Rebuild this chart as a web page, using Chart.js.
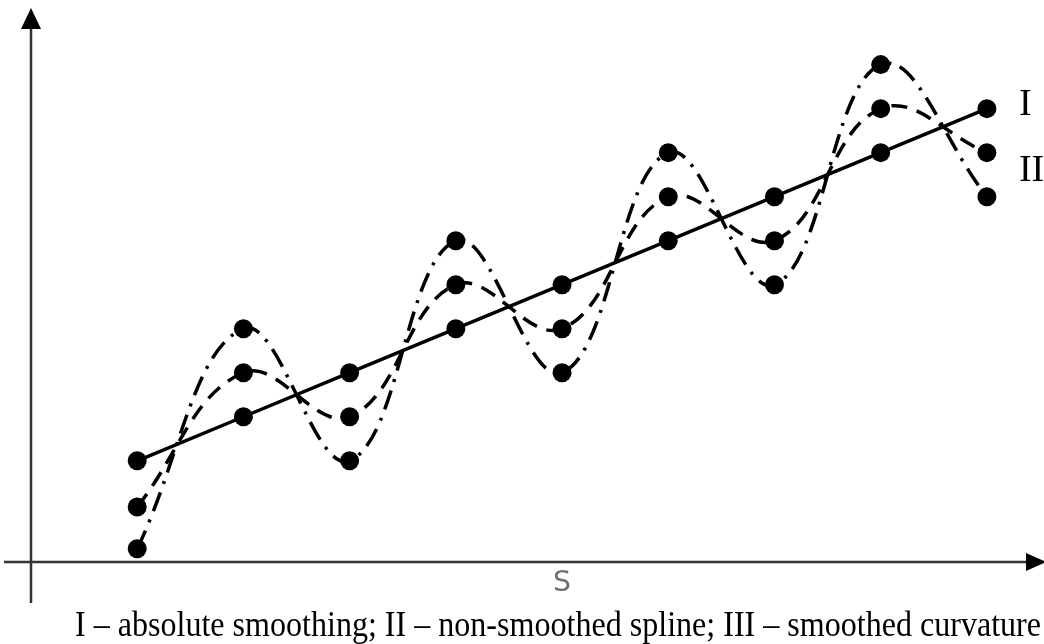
<!DOCTYPE html>
<html>
<head>
<meta charset="utf-8">
<style>
  html, body { margin: 0; padding: 0; background: #ffffff; }
  #c { display: block; }
</style>
<script src="https://cdn.jsdelivr.net/npm/chart.js@4/dist/chart.umd.min.js"></script>
</head>
<body>
<canvas id="c" width="1044" height="644"></canvas>
<script>
// Positions along S (node index)
const categories = [0, 1, 2, 3, 4, 5, 6, 7, 8];
// Series values
const seriesI   = [2.3, 3.3, 4.3, 5.3, 6.3, 7.3, 8.3, 9.3, 10.3];   // absolute smoothing
const seriesII  = [1.25, 4.3, 3.3, 6.3, 5.3, 8.3, 7.3, 10.3, 9.3];  // non-smoothed spline
const seriesIII = [0.3, 5.3, 2.3, 7.3, 4.3, 9.3, 6.3, 11.3, 8.3];   // smoothed curvature
// Texts
const axisLabel = "S";
const caption = "I \u2013 absolute smoothing; II \u2013 non-smoothed spline; III \u2013 smoothed curvature";
const endLabels = ["I", "II"];
const endLabelValues = [10.3, 9.3];

const toPts = arr => arr.map((v, i) => ({ x: categories[i], y: v }));

const decor = {
  id: 'decor',
  beforeDatasetsDraw(chart) {
    const ctx = chart.ctx;
    const xs = chart.scales.x, ys = chart.scales.y;
    const ax = Math.round(xs.getPixelForValue(-1));
    const ay = ys.getPixelForValue(0);
    ctx.save();
    ctx.strokeStyle = '#333';
    ctx.fillStyle = '#000';
    ctx.lineWidth = 2.5;
    // y axis
    ctx.beginPath();
    ctx.moveTo(ax, 603);
    ctx.lineTo(ax, 26);
    ctx.stroke();
    ctx.beginPath();
    ctx.moveTo(ax, 8);
    ctx.lineTo(ax - 10, 29);
    ctx.lineTo(ax + 10, 29);
    ctx.closePath();
    ctx.fill();
    // x axis
    ctx.beginPath();
    ctx.moveTo(4, ay);
    ctx.lineTo(1030, ay);
    ctx.stroke();
    ctx.beginPath();
    ctx.moveTo(1046, ay);
    ctx.lineTo(1026, ay - 9);
    ctx.lineTo(1026, ay + 9);
    ctx.closePath();
    ctx.fill();
    ctx.restore();
  },
  afterDraw(chart) {
    const ctx = chart.ctx;
    const xs = chart.scales.x, ys = chart.scales.y;
    ctx.save();
    // S label
    ctx.fillStyle = '#707070';
    ctx.font = '29px "DejaVu Sans"';
    ctx.textAlign = 'center';
    ctx.textBaseline = 'alphabetic';
    ctx.fillText(axisLabel, xs.getPixelForValue(4), 591, 18);
    // caption
    ctx.fillStyle = '#000';
    ctx.font = '36px "Liberation Serif"';
    ctx.textAlign = 'left';
    ctx.fillText(caption, 75, 636, 966);
    // end labels
    ctx.font = '38px "Liberation Serif"';
    const lx = xs.getPixelForValue(8) + 32;
    ctx.fillText(endLabels[0], lx, ys.getPixelForValue(endLabelValues[0]) + 6);
    ctx.fillText(endLabels[1], lx, ys.getPixelForValue(endLabelValues[1]) + 28);
    ctx.restore();
  }
};

const common = {
  borderColor: '#000',
  backgroundColor: '#000',
  pointBackgroundColor: '#000',
  pointBorderColor: '#000',
  pointRadius: 9.5,
  pointBorderWidth: 0,
  fill: false,
  clip: false
};

new Chart(document.getElementById('c'), {
  type: 'line',
  data: {
    datasets: [
      Object.assign({}, common, {
        label: 'III', data: toPts(seriesIII), tension: 0.4,
        borderWidth: 3.5, borderDash: [20, 9, 3, 9]
      }),
      Object.assign({}, common, {
        label: 'II', data: toPts(seriesII), tension: 0.4,
        borderWidth: 3.5, borderDash: [16, 10]
      }),
      Object.assign({}, common, {
        label: 'I', data: toPts(seriesI), tension: 0,
        borderWidth: 3.5
      })
    ]
  },
  plugins: [decor],
  options: {
    responsive: false,
    animation: false,
    devicePixelRatio: 1,
    layout: { autoPadding: false, padding: { left: 31, right: 4, top: 25, bottom: 82 } },
    plugins: { legend: { display: false }, tooltip: { enabled: false }, title: { display: false } },
    scales: {
      x: { type: 'linear', min: -1, max: 8.5, display: false },
      y: { type: 'linear', min: 0, max: 12.2, display: false }
    },
    events: []
  }
});
</script>
</body>
</html>
